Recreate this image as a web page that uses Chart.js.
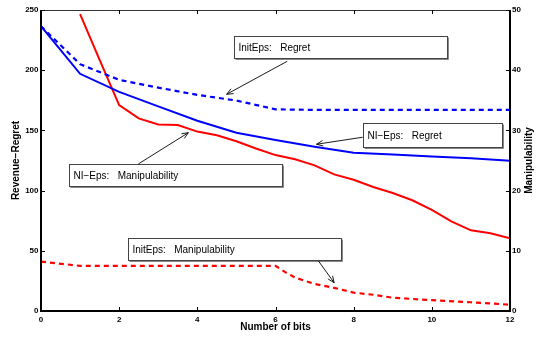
<!DOCTYPE html>
<html><head><meta charset="utf-8">
<script src="https://cdn.jsdelivr.net/npm/chart.js@4/dist/chart.umd.min.js"></script>
<style>html,body{margin:0;padding:0;background:#fff}#wrap{width:539px;height:337px;position:relative}</style>
</head><body><div id="wrap"><canvas id="c"></canvas></div>
<script>
// ---- data ----
const bits = [0,1,2,3,4,5,6,7,8,9,10,11,12];
const niRegret   = [236.5,197,182,170,158,148,142,136.5,131.5,130,128.3,126.8,124.8];
const initRegret = [236.5,205,192,185.5,179.5,174.8,167.5,167,167,167,167,167,167];
const bitsNiManip = [1,1.5,2,2.5,3,3.5,4,4.5,5,5.5,6,6.5,7,7.5,8,8.5,9,9.5,10,10.5,11,11.5,12];
const niManip = [49.3,41.7,34.2,32.0,31.0,30.9,29.8,29.2,28.2,27.0,25.9,25.2,24.2,22.7,21.8,20.6,19.6,18.4,16.8,14.9,13.4,12.9,12.1];
const bitsInitManip = [0,1,2,3,4,5,6,6.25,6.5,7,7.5,8,8.5,9,10,11,12];
const initManip = [8.2,7.5,7.5,7.5,7.5,7.5,7.5,6.45,5.55,4.5,3.85,3.05,2.7,2.2,1.8,1.45,1.05];
const leftTicks = [0,50,100,150,200,250];
const rightTicks = [0,10,20,30,40,50];
const xTicks = [0,2,4,6,8,10,12];

// text-box annotations, in data units (x: bits, y: left axis)
const notes = [
  {text:'InitEps:   Regret',          box:[4.94,228.4,10.39,210.1], from:[6.30,207.4], to:[4.75,180.0]},
  {text:'NI\u2212Eps:   Regret',      box:[8.23,156.4,11.79,136.0], from:[8.23,144.3], to:[7.05,138.5]},
  {text:'NI\u2212Eps:   Manipulability', box:[0.72,122.1,6.17,103.8], from:[2.49,122.1], to:[3.77,148.1]},
  {text:'InitEps:   Manipulability',  box:[2.22,60.4,7.68,42.4],   from:[7.10,41.5],  to:[7.50,23.5]}
];

const toXY = (xs, ys) => xs.map((x,i)=>({x:x, y:ys[i]}));
const FONT = "'Liberation Sans', Arial, Helvetica, sans-serif";

const framePlugin = {
  id:'frame',
  afterDatasetsDraw(chart){
    const {ctx, chartArea:a, scales} = chart;
    const sx = scales.x, sl = scales.y, sr = scales.y1;
    ctx.save();
    // frame
    ctx.strokeStyle = '#000'; ctx.lineWidth = 2;
    ctx.beginPath();
    ctx.moveTo(a.left, a.top); ctx.lineTo(a.left, a.bottom); ctx.lineTo(a.right, a.bottom); ctx.lineTo(a.right, a.top);
    ctx.stroke();
    ctx.lineWidth = 1; ctx.strokeStyle = '#333';
    ctx.beginPath(); ctx.moveTo(a.left, a.top+0.5); ctx.lineTo(a.right, a.top+0.5); ctx.stroke();
    // inward ticks
    ctx.strokeStyle = '#000'; ctx.lineWidth = 1;
    ctx.beginPath();
    xTicks.forEach(v=>{
      const px = Math.round(sx.getPixelForValue(v))+0.5;
      ctx.moveTo(px, a.bottom); ctx.lineTo(px, a.bottom-4);
      ctx.moveTo(px, a.top); ctx.lineTo(px, a.top+4);
    });
    leftTicks.forEach(v=>{
      const py = Math.round(sl.getPixelForValue(v))+0.5;
      ctx.moveTo(a.left, py); ctx.lineTo(a.left+4, py);
    });
    rightTicks.forEach(v=>{
      const py = Math.round(sr.getPixelForValue(v))+0.5;
      ctx.moveTo(a.right, py); ctx.lineTo(a.right-4, py);
    });
    ctx.stroke();
    // annotations
    notes.forEach(n=>{
      const x1 = Math.round(sx.getPixelForValue(n.box[0]))+0.5;
      const y1 = Math.round(sl.getPixelForValue(n.box[1]))+0.5;
      const x2 = Math.round(sx.getPixelForValue(n.box[2]))+0.5;
      const y2 = Math.round(sl.getPixelForValue(n.box[3]))+0.5;
      ctx.fillStyle = '#fff';
      ctx.fillRect(x1, y1, x2-x1, y2-y1);
      ctx.strokeStyle = '#444'; ctx.lineWidth = 1;
      ctx.strokeRect(x1, y1, x2-x1, y2-y1);
      ctx.strokeStyle = '#888';
      ctx.beginPath(); ctx.moveTo(x2+1, y1+1); ctx.lineTo(x2+1, y2+1); ctx.lineTo(x1+1, y2+1); ctx.stroke();
      ctx.fillStyle = '#000';
      ctx.font = '10px ' + FONT;
      ctx.textAlign = 'left'; ctx.textBaseline = 'middle';
      ctx.fillText(n.text, x1+4, (y1+y2)/2+0.5);
      // arrow
      const fx = sx.getPixelForValue(n.from[0]), fy = sl.getPixelForValue(n.from[1]);
      const tx = sx.getPixelForValue(n.to[0]),   ty = sl.getPixelForValue(n.to[1]);
      ctx.strokeStyle = '#000'; ctx.lineWidth = 0.9;
      ctx.beginPath(); ctx.moveTo(fx, fy); ctx.lineTo(tx, ty); ctx.stroke();
      const ang = Math.atan2(ty-fy, tx-fx), L = 7, w = 0.4;
      ctx.beginPath();
      ctx.moveTo(tx - L*Math.cos(ang-w), ty - L*Math.sin(ang-w));
      ctx.lineTo(tx, ty);
      ctx.lineTo(tx - L*Math.cos(ang+w), ty - L*Math.sin(ang+w));
      ctx.stroke();
    });
    // right axis title (reads bottom-to-top)
    ctx.fillStyle = '#000';
    ctx.font = 'bold 10px ' + FONT;
    ctx.translate(529, (a.top+a.bottom)/2);
    ctx.rotate(-Math.PI/2);
    ctx.textAlign = 'center'; ctx.textBaseline = 'middle';
    ctx.fillText('Manipulability', 0, 0);
    ctx.restore();
  }
};

const tickFont = {family: FONT, size: 8, weight: 'bold'};

new Chart(document.getElementById('c'), {
  type: 'line',
  data: {
    datasets: [
      {label:'NI-Eps: Regret', data: toXY(bits, niRegret), yAxisID:'y',
       borderColor:'#0000ff', borderWidth:2, pointRadius:0, tension:0, fill:false},
      {label:'InitEps: Regret', data: toXY(bits, initRegret), yAxisID:'y',
       borderColor:'#0000ff', borderWidth:2.2, borderDash:[5,4], pointRadius:0, tension:0, fill:false},
      {label:'NI-Eps: Manipulability', data: toXY(bitsNiManip, niManip), yAxisID:'y1',
       borderColor:'#ff0000', borderWidth:2, pointRadius:0, tension:0, fill:false},
      {label:'InitEps: Manipulability', data: toXY(bitsInitManip, initManip), yAxisID:'y1',
       borderColor:'#ff0000', borderWidth:2.2, borderDash:[5,4], pointRadius:0, tension:0, fill:false}
    ]
  },
  options: {
    responsive: true, maintainAspectRatio: false, animation: false, devicePixelRatio: 1,
    layout: {padding: {top: 10, left: 0, right: 0, bottom: 0}},
    plugins: {legend: {display:false}, tooltip: {enabled:false}},
    scales: {
      x: {type:'linear', min:0, max:12,
          afterBuildTicks: s => { s.ticks = xTicks.map(v=>({value:v})); },
          afterFit: s => { s.height = 26; },
          grid: {display:false, drawTicks:false}, border: {display:false},
          ticks: {font: tickFont, color:'#000', padding: 4, maxRotation:0},
          title: {display:true, text:'Number of bits', font:{family:FONT, size:10, weight:'bold'}, color:'#000', padding:{top:0, bottom:4}}},
      y: {type:'linear', position:'left', min:0, max:250,
          afterBuildTicks: s => { s.ticks = leftTicks.map(v=>({value:v})); },
          afterFit: s => { s.width = 41; },
          grid: {display:false, drawTicks:false}, border: {display:false},
          ticks: {font: tickFont, color:'#000', padding: 2.5},
          title: {display:true, text:'Revenue\u2212Regret', font:{family:FONT, size:10, weight:'bold'}, color:'#000', padding:{top:10, bottom:0}}},
      y1: {type:'linear', position:'right', min:0, max:50,
          afterBuildTicks: s => { s.ticks = rightTicks.map(v=>({value:v})); },
          afterFit: s => { s.width = 29; },
          grid: {display:false, drawTicks:false}, border: {display:false},
          ticks: {font: tickFont, color:'#000', padding: 2}}
    }
  },
  plugins: [framePlugin]
});
</script></body></html>
